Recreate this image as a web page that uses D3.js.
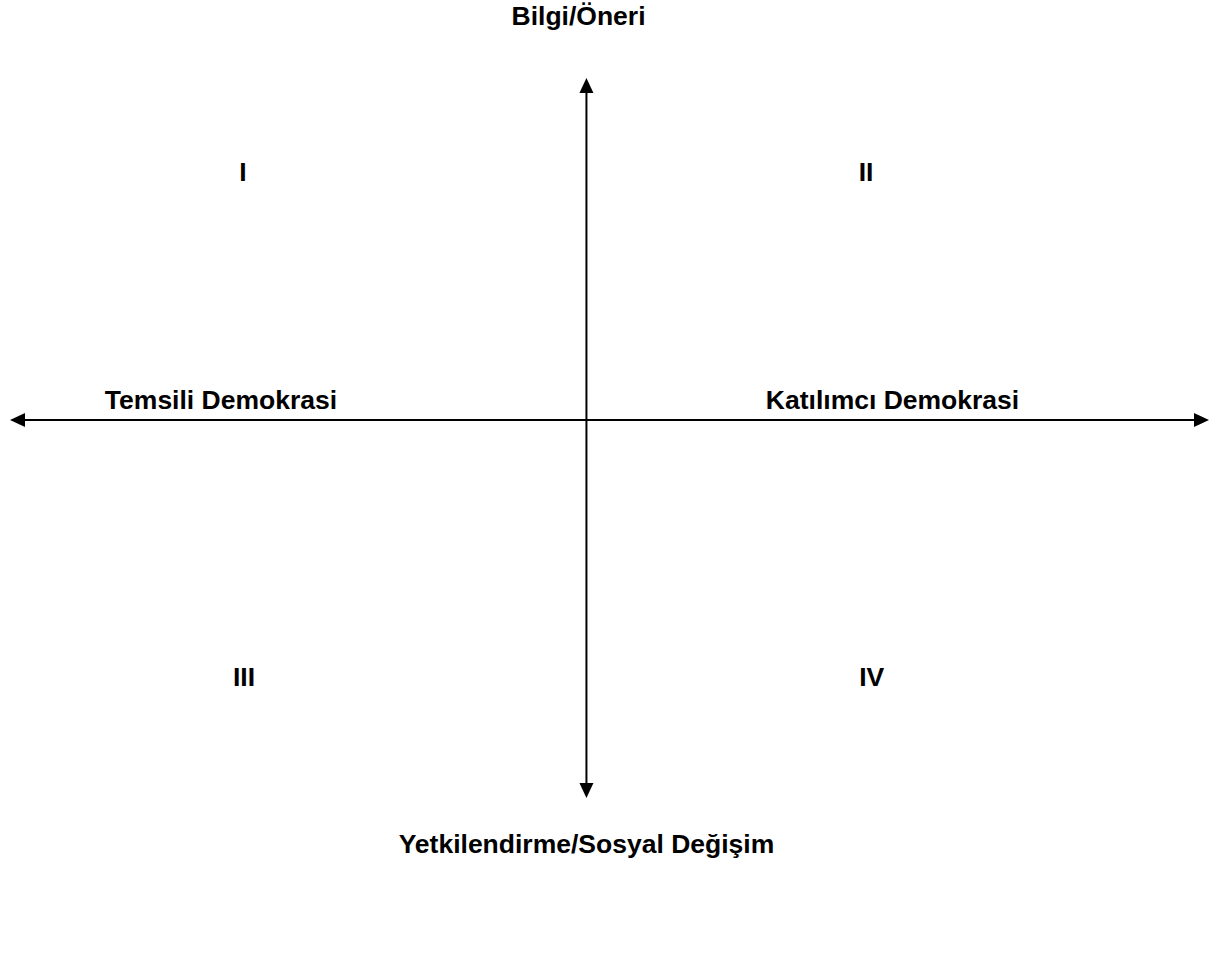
<!DOCTYPE html>
<html>
<head>
<meta charset="utf-8">
<script src="https://cdn.jsdelivr.net/npm/d3@7"></script>
<style>
  html, body { margin: 0; padding: 0; background: #fff; }
  svg text { font-family: "Liberation Sans", Arial, sans-serif; font-weight: bold; fill: #000; }
</style>
</head>
<body>
<svg id="chart" width="1216" height="972"></svg>
<script>
// Axis extents (conceptual units)
const axisX = [-1, 1.08];        // horizontal axis: left tip, right tip
const axisY = [-1.105, 1];       // vertical axis: bottom tip, top tip

// Axis end labels
const axisLabels = ["Temsili Demokrasi", "Katılımcı Demokrasi", "Bilgi/Öneri", "Yetkilendirme/Sosyal Değişim"];
const axisLabelX = [-0.634, 0.531, -0.0137, 0];
const axisLabelY = [0.032, 0.032, 1.155, -1.266];

// Quadrant labels
const quadrants = ["I", "II", "III", "IV"];
const quadrantX = [-0.596, 0.485, -0.594, 0.495];
const quadrantY = [0.699, 0.699, -0.778, -0.778];

const svg = d3.select("#chart");
const x = d3.scaleLinear().domain(axisX).range([10, 1209]);
const y = d3.scaleLinear().domain(axisY).range([798, 78]);

const head = 15, half = 7;

// Horizontal axis
svg.append("line")
  .attr("x1", x(axisX[0]) + head).attr("x2", x(axisX[1]) - head)
  .attr("y1", y(0)).attr("y2", y(0))
  .attr("stroke", "#000").attr("stroke-width", 2);
// Vertical axis
svg.append("line")
  .attr("x1", x(0)).attr("x2", x(0))
  .attr("y1", y(axisY[1]) + head).attr("y2", y(axisY[0]) - head)
  .attr("stroke", "#000").attr("stroke-width", 2);

// Arrowheads
const heads = [
  { tx: x(axisX[0]), ty: y(0), dx: 1, dy: 0 },
  { tx: x(axisX[1]), ty: y(0), dx: -1, dy: 0 },
  { tx: x(0), ty: y(axisY[1]), dx: 0, dy: 1 },
  { tx: x(0), ty: y(axisY[0]), dx: 0, dy: -1 }
];
svg.selectAll("path.head").data(heads).join("path")
  .attr("class", "head")
  .attr("fill", "#000")
  .attr("d", d => {
    const bx = d.tx + d.dx * head, by = d.ty + d.dy * head;
    const px = -d.dy * half, py = d.dx * half;
    return `M${d.tx},${d.ty}L${bx + px},${by + py}L${bx - px},${by - py}Z`;
  });

// Axis labels
svg.selectAll("text.axis").data(axisLabels).join("text")
  .attr("class", "axis")
  .attr("x", (d, i) => x(axisLabelX[i]))
  .attr("y", (d, i) => y(axisLabelY[i]))
  .attr("text-anchor", "middle")
  .attr("font-size", 26.5)
  .text(d => d);

// Quadrant labels
svg.selectAll("text.quad").data(quadrants).join("text")
  .attr("class", "quad")
  .attr("x", (d, i) => x(quadrantX[i]))
  .attr("y", (d, i) => y(quadrantY[i]))
  .attr("text-anchor", "middle")
  .attr("font-size", 26.5)
  .text(d => d);
</script>
</body>
</html>
